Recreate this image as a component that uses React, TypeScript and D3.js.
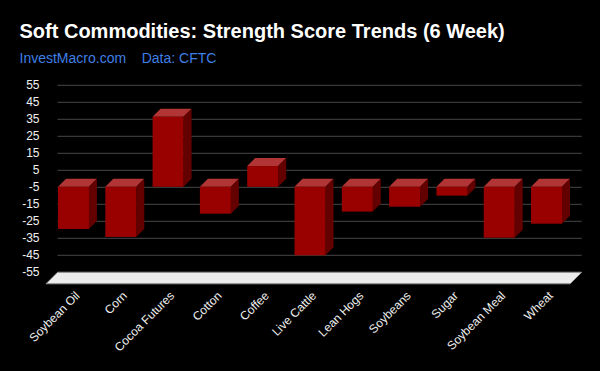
import React from "react";
import * as d3 from "d3";

const categories = [
  "Soybean Oil",
  "Corn",
  "Cocoa Futures",
  "Cotton",
  "Coffee",
  "Live Cattle",
  "Lean Hogs",
  "Soybeans",
  "Sugar",
  "Soybean Meal",
  "Wheat",
];
const scores = [-24.8, -29.5, 41.2, -15.8, 12.2, -40.3, -14.6, -11.7, -5.2, -29.9, -21.7];
const yTicks = [55, 45, 35, 25, 15, 5, -5, -15, -25, -35, -45, -55];

const W = 600;
const H = 371;
const FONT = "'Liberation Sans', Arial, Helvetica, sans-serif";

export default function App() {
  // back-wall vertical scale
  const y = d3.scaleLinear().domain([-55, 55]).range([272.3, 85.3]);
  // front-face horizontal band scale
  const x = d3
    .scaleBand<string>()
    .domain(categories)
    .range([49.7, 570.3])
    .paddingInner(0.345)
    .paddingOuter(0.175);

  const depth = 8; // bar depth offset (px)
  const floorDepth = 11.5;
  const wallLeft = 57.5;
  const wallRight = 581.7;
  const bw = x.bandwidth();

  const bars = categories.map((c, i) => {
    const v = scores[i];
    const x0 = x(c) as number;
    const x1 = x0 + bw;
    const yTopBack = y(Math.max(v, 0));
    const yBotBack = y(Math.min(v, 0));
    const fTop = yTopBack + depth;
    const fBot = yBotBack + depth;
    const top = [
      [x0, fTop],
      [x1, fTop],
      [x1 + depth, yTopBack],
      [x0 + depth, yTopBack],
    ];
    const side = [
      [x1, fTop],
      [x1 + depth, yTopBack],
      [x1 + depth, yBotBack],
      [x1, fBot],
    ];
    return { c, x0, x1, fTop, fBot, top, side };
  });

  const pts = (p: number[][]) => p.map((q) => q.join(",")).join(" ");
  const yFloor = y(-55);
  const floor = [
    [wallLeft, yFloor],
    [wallRight, yFloor],
    [wallRight - floorDepth, yFloor + floorDepth],
    [wallLeft - floorDepth, yFloor + floorDepth],
  ];

  return (
    <svg
      width={W}
      height={H}
      style={{ position: "fixed", left: 0, top: 0, display: "block" }}
      fontFamily={FONT}
    >
      <rect x={0} y={0} width={W} height={H} fill="#000" />
      <text x={19.5} y={37.5} fill="#fff" fontSize={20} fontWeight="bold">
        Soft Commodities: Strength Score Trends (6 Week)
      </text>
      <text x={19.5} y={63} fill="#3f7fe6" fontSize={14}>
        InvestMacro.com
      </text>
      <text x={141.7} y={63} fill="#3f7fe6" fontSize={14}>
        Data: CFTC
      </text>

      {yTicks.map((t) => (
        <g key={t}>
          <line
            x1={wallLeft}
            x2={wallRight}
            y1={y(t)}
            y2={y(t)}
            stroke="#464646"
            strokeWidth={1}
          />
          <text
            x={39.5}
            y={y(t)}
            fill="#f0f0f0"
            fontSize={12}
            textAnchor="end"
            dominantBaseline="central"
          >
            {t}
          </text>
        </g>
      ))}

      {bars.map((b) => (
        <g key={b.c}>
          <polygon points={pts(b.top)} fill="#b13535" />
          <polygon points={pts(b.side)} fill="#630000" />
          <rect x={b.x0} y={b.fTop} width={bw} height={b.fBot - b.fTop} fill="#990000" />
        </g>
      ))}

      <polygon points={pts(floor)} fill="#ececec" stroke="#8a8a8a" strokeWidth={1} />

      {categories.map((c) => {
        const cx = (x(c) as number) + bw / 2;
        return (
          <text
            key={c}
            transform={`translate(${cx + 7},${296.5}) rotate(-45)`}
            fill="#f0f0f0"
            fontSize={12}
            textAnchor="end"
          >
            {c}
          </text>
        );
      })}
    </svg>
  );
}
